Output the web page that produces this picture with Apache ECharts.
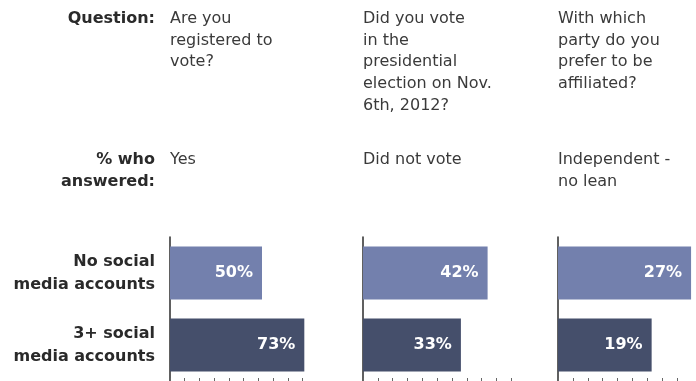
<!DOCTYPE html>
<html>
<head>
<meta charset="utf-8">
<script src="https://cdn.jsdelivr.net/npm/echarts@6/dist/echarts.min.js"></script>
<style>
  html, body { margin: 0; padding: 0; background: #fff; }
  #chart { width: 696px; height: 381px; }
</style>
</head>
<body>
<div id="chart"></div>
<script>
// data
var groups = ['No social\nmedia accounts', '3+ social\nmedia accounts'];
var questions = [
  'Are you\nregistered to\nvote?',
  'Did you vote\nin the\npresidential\nelection on Nov.\n6th, 2012?',
  'With which\nparty do you\nprefer to be\naffiliated?'
];
var answers = ['Yes', 'Did not vote', 'Independent -\nno lean'];
var noSocial = [50, 42, 27];
var social3 = [73, 33, 19];

// each panel has its own scale
var axisMax = [100, 60, 28];
var tickStep = [8, 5, 3];
var tickMax = [72, 50, 24];
var panelLeft = [170, 363, 558];
var panelWidth = [184, 178, 139];

var lightBar = '#7380ad';
var darkBar = '#454f6b';
var font = '"DejaVu Sans", sans-serif';

var chart = echarts.init(document.getElementById('chart'));

var grids = [], xAxes = [], yAxes = [], series = [], texts = [];

for (var i = 0; i < 3; i++) {
  grids.push({ left: panelLeft[i], width: panelWidth[i], top: 237, bottom: 0 });
  xAxes.push({
    type: 'value', gridIndex: i, min: 0, max: axisMax[i],
    axisLine: { show: false }, axisTick: { show: false },
    axisLabel: { show: false }, splitLine: { show: false }
  });
  yAxes.push({
    type: 'category', gridIndex: i, data: groups, inverse: true,
    axisLine: { show: true, lineStyle: { color: '#2b2b2b', width: 1.5 } },
    axisTick: { show: false },
    axisLabel: {
      show: i === 0, margin: 15, align: 'right',
      fontFamily: font, fontWeight: 'bold', fontSize: 16, lineHeight: 23, color: '#2a2a2a'
    }
  });
  series.push({
    type: 'bar', xAxisIndex: i, yAxisIndex: i, barWidth: 53,
    data: [
      { value: noSocial[i], itemStyle: { color: lightBar } },
      { value: social3[i], itemStyle: { color: darkBar } }
    ],
    label: {
      show: true, position: 'insideRight', distance: 9, formatter: '{c}%',
      color: '#fff', fontFamily: font, fontWeight: 'bold', fontSize: 16
    },
    silent: true
  });
  texts.push({
    type: 'text', x: panelLeft[i], y: 8,
    style: { text: questions[i], font: '16px ' + font, fill: '#3a3a3a', lineHeight: 21.7, align: 'left', verticalAlign: 'top' }
  });
  texts.push({
    type: 'text', x: panelLeft[i], y: 149,
    style: { text: answers[i], font: '16px ' + font, fill: '#3a3a3a', lineHeight: 21.7, align: 'left', verticalAlign: 'top' }
  });
}

// bottom tick strips, same px-per-% as each panel, only as wide as the ticks run
for (var j = 0; j < 3; j++) {
  grids.push({
    left: panelLeft[j], width: panelWidth[j] * tickMax[j] / axisMax[j],
    top: 370, bottom: 0
  });
  xAxes.push({
    type: 'value', gridIndex: 3 + j, min: 0, max: tickMax[j], interval: tickStep[j],
    axisLine: { show: false },
    axisTick: { show: true, inside: true, length: 3, lineStyle: { color: '#666', width: 1 } },
    axisLabel: { show: false }, splitLine: { show: false }
  });
  yAxes.push({ type: 'value', gridIndex: 3 + j, show: false });
}

texts.push({
  type: 'text', x: 155, y: 8,
  style: { text: 'Question:', font: 'bold 16px ' + font, fill: '#2a2a2a', lineHeight: 21.7, align: 'right', verticalAlign: 'top' }
});
texts.push({
  type: 'text', x: 155, y: 149,
  style: { text: '% who\nanswered:', font: 'bold 16px ' + font, fill: '#2a2a2a', lineHeight: 21.7, align: 'right', verticalAlign: 'top' }
});

chart.setOption({
  animation: false,
  grid: grids,
  xAxis: xAxes,
  yAxis: yAxes,
  series: series,
  graphic: texts
});
</script>
</body>
</html>
